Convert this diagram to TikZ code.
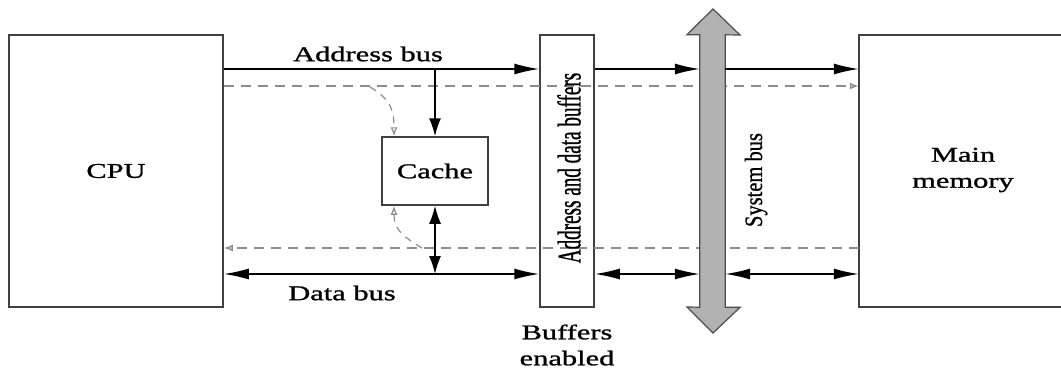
\documentclass[tikz,border=0pt]{standalone}
\usepackage{fontspec}
\usetikzlibrary{arrows.meta}
\newfontfamily\lblfont[FakeStretch=1.45,FakeBold=1.2]{Liberation Serif}
\newfontfamily\bufrot[FakeStretch=0.58,FakeBold=0.8]{Liberation Serif}
\newfontfamily\sysrot[FakeStretch=0.82,FakeBold=0.8]{Liberation Serif}
\tikzset{
  box/.style={draw=black!75, line width=1.5pt, inner sep=0pt},
  lbl/.style={font=\lblfont\fontsize{21}{26}\selectfont, align=center, inner sep=0pt},
  bigtip/.tip={Latex[length=25pt,width=11pt]},
  smalltip/.tip={Latex[length=18pt,width=12pt]},
  opentip/.tip={Latex[open,length=9pt,width=7pt]},
  bus/.style={line width=1.6pt, -bigtip},
  dbus/.style={line width=1.6pt, bigtip-bigtip},
  gdash/.style={draw=black!45, line width=1.5pt, dash pattern=on 10pt off 7pt},
}
\begin{document}
\begin{tikzpicture}[x=1pt,y=-1pt]
\useasboundingbox (0,0) rectangle (1061,372);
% levels
\coordinate (ya) at (0,69);
\coordinate (yd1) at (0,86);
\coordinate (yd2) at (0,248);
\coordinate (yb) at (0,274);
% boxes
\node[box, minimum width=214pt, minimum height=272pt] (cpu) at (116,171) {};
\node[lbl] at (cpu.center) {CPU};
\node[box, minimum width=54pt, minimum height=272pt] (buf) at (567,171) {};
\node[box, minimum width=106pt, minimum height=68pt] (cache) at (435,171) {};
\node[lbl] at (cache.center) {Cache};
\node[inner sep=0pt, minimum width=211pt, minimum height=272pt] (mem) at (964.5,171) {};
\draw[draw=black!75, line width=1.5pt] (mem.north east) -- (mem.north west) -- (mem.south west) -- (mem.south east);
\node[lbl] at (963,170) {Main\\memory};
\node[inner sep=0pt, minimum width=25pt, minimum height=272pt] (sys) at (712.5,171) {};
% dashed lines (under system bus)
\draw[gdash, -opentip] (cpu.east |- yd1) -- (mem.west |- yd1);
\draw[gdash, -opentip] (mem.west |- yd2) -- (cpu.east |- yd2);
% system bus
\draw[draw=black!70, fill=black!30, line width=1.2pt]
  (sys.north west) -- ++(-13,0) -- (713,9) -- (740,35) -- (sys.north east)
  -- (sys.south east) -- ++(15,0) -- (713,333) -- (687,307) -- (sys.south west) -- cycle;
% address bus
\draw[bus] (cpu.east |- ya) -- (buf.west |- ya);
\draw[bus] (buf.east |- ya) -- (sys.west |- ya);
\draw[bus] (sys.east |- ya) -- (mem.west |- ya);
% data bus
\draw[dbus] (cpu.east |- yb) -- (buf.west |- yb);
\draw[dbus] (buf.east |- yb) -- (sys.west |- yb);
\draw[dbus] (sys.east |- yb) -- (mem.west |- yb);
% cache connections
\draw[line width=1.6pt, -smalltip] (cache.north |- ya) -- (cache.north);
\draw[line width=1.6pt, smalltip-smalltip] (cache.south) -- (cache.south |- yb);
\coordinate (tap1) at (370,87);
\coordinate (tap2) at (422,248);
\draw[gdash, line width=1.2pt, dash pattern=on 7pt off 6pt, -opentip] (tap1) .. controls (392,100) and (394,112) .. ([xshift=-41pt]cache.north);
\draw[gdash, line width=1.2pt, dash pattern=on 7pt off 6pt, -opentip] (tap2) .. controls (398,234) and (394,226) .. ([xshift=-41pt]cache.south);
% labels
\node[lbl] at (368,54) {Address bus};
\node[lbl] at (342,293) {Data bus};
\node[lbl] at (567,345) {Buffers\\enabled};
\node[inner sep=0pt, rotate=90, font=\bufrot\fontsize{33}{36}\selectfont] at (569,168) {Address and data buffers};
\node[inner sep=0pt, rotate=90, font=\sysrot\fontsize{25}{28}\selectfont] at (756,180) {System bus};
\end{tikzpicture}
\end{document}
